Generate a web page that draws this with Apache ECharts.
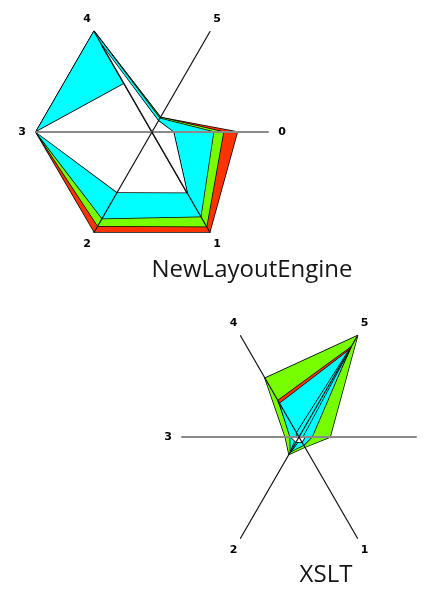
<!DOCTYPE html>
<html>
<head>
<meta charset="utf-8">
<script src="https://cdn.jsdelivr.net/npm/echarts@6/dist/echarts.min.js"></script>
<style>
  html, body { margin: 0; padding: 0; background: #fff; }
  #chart { width: 426px; height: 590px; }
</style>
</head>
<body>
<div id="chart"></div>
<script>
// Axis labels (axis index 0..5) and the order ECharts places them (counter-clockwise from 0°)
var axisLabels = ['0', '1', '2', '3', '4', '5'];
var radarOrder = [0, 5, 4, 3, 2, 1];

// Chart titles
var titles = ['NewLayoutEngine', 'XSLT'];

// Colours
var colRed = '#ff3300', colGreen = '#77ff00', colCyan = '#00ffff', colWhite = '#ffffff';

// NewLayoutEngine values (percent of axis max), axis order 0..5
var nleRed    = [73.5, 99.5, 99.5, 100, 100, 14.5];
var nleGreen  = [61.5, 94, 93.5, 100, 100, 14.5];
var nleCyan   = [53, 84, 86, 100, 100, 13.5];
var nleWhiteA = [18.4, 60.3, 60, 100, 48, 0];
var nleWhiteB = [18.4, 60.3, 0, 0, 86, 11];

// XSLT values (percent of axis max), axis order 0..5
var xsltGreen  = [26.5, 10, 17, 11.7, 58, 100];
var xsltRed    = [9, 6, 12, 6, 36, 88.5];
var xsltCyan   = [11, 8, 14.5, 7.5, 33, 85.5];
var xsltCyanB  = [3, 2, 14.5, 2, 4, 85];
var xsltWhite  = [5, 5, 5, 7, 0, 0];

function reorder(v) { return radarOrder.map(function (i) { return v[i]; }); }

function indicators() {
  return radarOrder.map(function (i) {
    var ind = { name: axisLabels[i], max: 100, min: 0 };
    if (i === 0 || i === 3) {
      ind.axisLine = { lineStyle: { color: '#8a8a8a', width: 2 } };
    }
    return ind;
  });
}

function radarComp(center, radius) {
  return {
    indicator: indicators(),
    center: center,
    radius: radius,
    startAngle: 0,
    shape: 'polygon',
    splitNumber: 1,
    splitLine: { show: false },
    splitArea: { show: false },
    axisLine: { show: true, lineStyle: { color: '#111', width: 1.2 } },
    axisTick: { show: false },
    axisLabel: { show: false },
    axisNameGap: 14,
    axisName: {
      color: '#000', fontWeight: 'bold', fontSize: 11, fontFamily: 'DejaVu Sans',
      align: 'center', verticalAlign: 'middle', padding: [0, 0, 8, 0]
    },
    z: 10
  };
}

function poly(radarIndex, values, color) {
  return {
    type: 'radar',
    radarIndex: radarIndex,
    symbol: 'none',
    silent: true,
    z: 2,
    lineStyle: { color: '#000', width: 1.5 },
    areaStyle: { color: color, opacity: 1 },
    data: [{ value: reorder(values) }]
  };
}

var chart = echarts.init(document.getElementById('chart'), null, { renderer: 'canvas' });
chart.setOption({
  backgroundColor: '#fff',
  animation: false,
  radar: [radarComp([152, 132], 116), radarComp([299, 437], 117)],
  series: [
    poly(0, nleRed, colRed),
    poly(0, nleGreen, colGreen),
    poly(0, nleCyan, colCyan),
    poly(0, nleWhiteA, colWhite),
    poly(0, nleWhiteB, colWhite),
    poly(1, xsltGreen, colGreen),
    poly(1, xsltRed, colRed),
    poly(1, xsltCyan, colCyan),
    poly(1, xsltCyanB, colCyan),
    poly(1, xsltWhite, colWhite)
  ],
  graphic: [
    { type: 'text', x: 252, y: 270, style: { text: titles[0], font: '24px "Open Sans"', fill: '#151515', textAlign: 'center', textVerticalAlign: 'middle' } },
    { type: 'text', x: 326, y: 575, style: { text: titles[1], font: '24px "Open Sans"', fill: '#151515', textAlign: 'center', textVerticalAlign: 'middle' } }
  ]
});
</script>
</body>
</html>
